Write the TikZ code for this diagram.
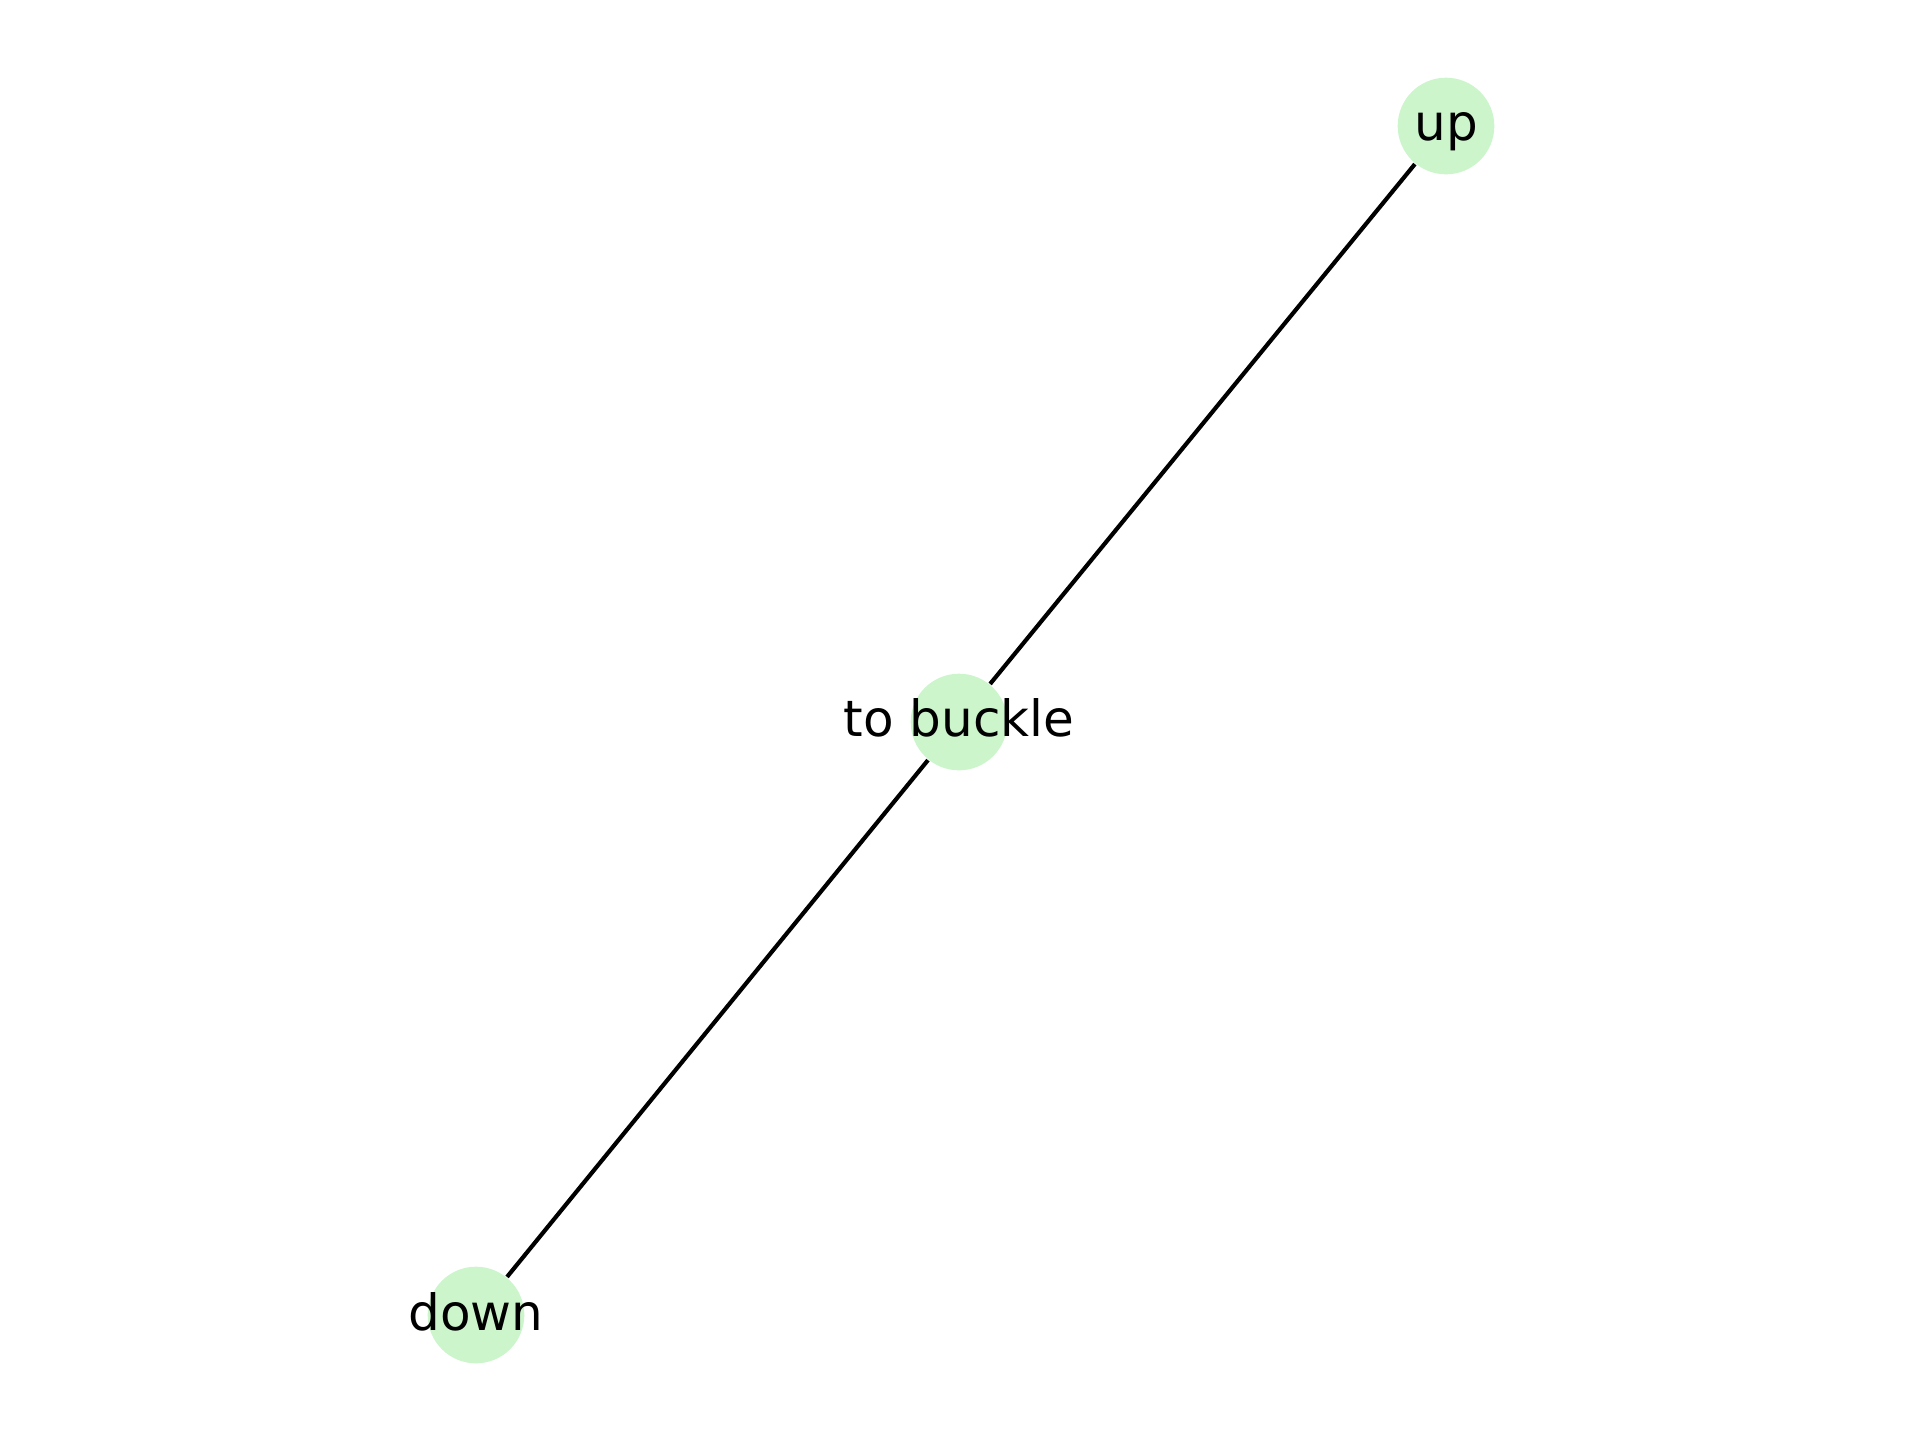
\documentclass[tikz,border=0pt]{standalone}
\usepackage{fontspec}
\setmainfont{DejaVu Sans}
\definecolor{nodegreen}{RGB}{204,245,204}
\begin{document}
\begin{tikzpicture}[x=0.24pt,y=-0.24pt,
  dot/.style={circle,fill=nodegreen,draw=none,inner sep=0pt,minimum size=23.2pt},
  lbl/.style={inner sep=0pt,anchor=base,font=\fontsize{12}{14}\selectfont,text=black},
  edge/.style={draw=black,line width=1pt}]
\useasboundingbox (0,0) rectangle (1920,1440);
\node[dot] (up) at (1446,126) {};
\node[dot] (tb) at (959,722) {};
\node[dot] (down) at (476,1315) {};
\draw[edge] (up) -- (tb);
\draw[edge] (tb) -- (down);
\node[lbl] (tupl) at (1446,140) {up};
\node[lbl] (ttbl) at (959,736) {to buckle};
\node[lbl] (tdownl) at (476,1330) {down};
\end{tikzpicture}
\end{document}
